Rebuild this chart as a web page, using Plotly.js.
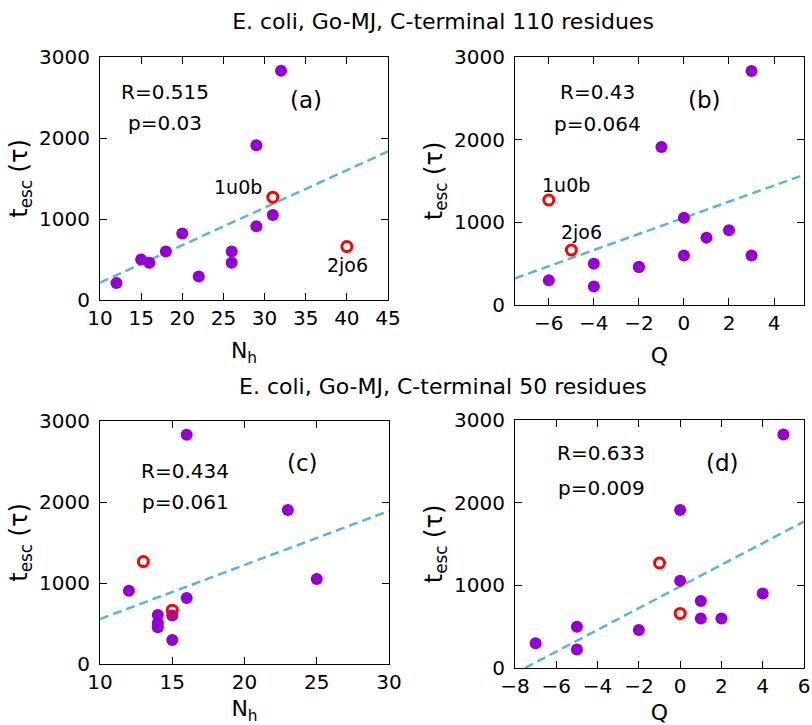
<!DOCTYPE html>
<html>
<head>
<meta charset="utf-8">
<script src="https://cdn.plot.ly/plotly-3.0.1.min.js"></script>
<style>html,body{margin:0;padding:0;background:#fff;}#chart{width:812px;height:725px;}</style>
</head>
<body>
<div id="chart"></div>
<script>
// ---- data ----
// (a) t_esc vs N_h, C-terminal 110 residues
const nhA = [12, 15, 16, 18, 20, 22, 26, 26, 29, 29, 31, 32];
const tA = [210, 500, 460, 600, 820, 290, 600, 460, 1910, 910, 1050, 2830];
const nhRedA = [31, 40];
const tRedA = [1270, 660];
const fitXA = [10, 45];
const fitYA = [214, 1834];

// (b) t_esc vs Q, C-terminal 110 residues
const qB = [-6, -4, -4, -2, -2, -1, 0, 0, 1, 2, 3, 3];
const tB = [300, 500, 225, 460, 460, 1910, 1055, 600, 815, 905, 2830, 600];
const qRedB = [-6, -5];
const tRedB = [1270, 665];
const fitXB = [-7.5, 5.33];
const fitYB = [323, 1575];

// (c) t_esc vs N_h, C-terminal 50 residues
const nhC = [12, 14, 14, 14, 15, 15, 16, 16, 23, 25];
const tC = [905, 605, 505, 455, 600, 295, 815, 2830, 1900, 1050];
const nhRedC = [13, 15];
const tRedC = [1265, 665];
const fitXC = [10, 30];
const fitYC = [555, 1890];

// (d) t_esc vs Q, C-terminal 50 residues
const qD = [-7, -5, -5, -2, 0, 0, 1, 1, 2, 4, 5];
const tD = [300, 500, 225, 460, 1910, 1055, 810, 600, 600, 900, 2825];
const qRedD = [-1, 0];
const tRedD = [1270, 660];
const fitXD = [-7.52, 6];
const fitYD = [0, 1772];

const statsText = [["R=0.515", "p=0.03"], ["R=0.43", "p=0.064"], ["R=0.434", "p=0.061"], ["R=0.633", "p=0.009"]];
const panelText = ["(a)", "(b)", "(c)", "(d)"];
const titleTop = "E. coli, Go-MJ, C-terminal 110 residues";
const titleBottom = "E. coli, Go-MJ, C-terminal 50 residues";
const protNames = ["1u0b", "2jo6"];

// ---- styling ----
const W = 812, H = 725;
const FONT = "DejaVu Sans";
const PURPLE = "#9400D3", RED = "#FF0000", BLUE = "#56B4E9";
const px = x => x / W;
const py = y => 1 - y / H;

function dots(x, y, xa, ya) {
  return {x: x, y: y, xaxis: xa, yaxis: ya, type: "scatter", mode: "markers",
    marker: {color: PURPLE, size: 12, line: {width: 0}}, hoverinfo: "x+y"};
}
function rings(x, y, xa, ya) {
  return {x: x, y: y, xaxis: xa, yaxis: ya, type: "scatter", mode: "markers",
    marker: {color: RED, size: 10, symbol: "circle-open", line: {color: RED, width: 3}}, hoverinfo: "x+y"};
}
function fit(x, y, xa, ya) {
  return {x: x, y: y, xaxis: xa, yaxis: ya, type: "scatter", mode: "lines",
    line: {color: BLUE, width: 2.5, dash: "9px,5px"}, hoverinfo: "skip"};
}

const traces = [
  fit(fitXA, fitYA, "x", "y"), dots(nhA, tA, "x", "y"), rings(nhRedA, tRedA, "x", "y"),
  fit(fitXB, fitYB, "x2", "y2"), dots(qB, tB, "x2", "y2"), rings(qRedB, tRedB, "x2", "y2"),
  fit(fitXC, fitYC, "x3", "y3"), dots(nhC, tC, "x3", "y3"), rings(nhRedC, tRedC, "x3", "y3"),
  fit(fitXD, fitYD, "x4", "y4"), dots(qD, tD, "x4", "y4"), rings(qRedD, tRedD, "x4", "y4")
];

function axis(domain, range, dtick, title, anchor, isY) {
  const a = {
    domain: domain, range: range, dtick: dtick, tick0: 0, anchor: anchor,
    ticks: "inside", ticklen: 7, tickwidth: 1, tickcolor: "#000",
    showline: true, linecolor: "#000", linewidth: 1, mirror: "ticks",
    showgrid: false, zeroline: false,
    tickfont: {family: FONT, size: 20, color: "#000"},
    title: {text: title, font: {family: FONT, size: isY ? 24 : 22, color: "#000"}, standoff: isY ? 4 : 13}
  };
  if (isY) a.ticklabelstandoff = 5;
  return a;
}
const yTitle = "t<sub>esc</sub> (τ)";
const nhTitle = "N<sub>h</sub>";

const layout = {
  width: W, height: H,
  margin: {l: 0, r: 0, t: 0, b: 0},
  paper_bgcolor: "#fff", plot_bgcolor: "#fff",
  showlegend: false,
  font: {family: FONT, color: "#000"},
  title: {text: titleTop, font: {family: FONT, size: 22, color: "#000"},
    x: px(443), xanchor: "center", xref: "paper", y: py(21), yanchor: "middle", yref: "container"},
  xaxis: axis([px(100), px(388)], [10, 45], 5, nhTitle, "y", false),
  yaxis: axis([py(300), py(57)], [0, 3000], 1000, yTitle, "x", true),
  xaxis2: axis([px(515), px(804)], [-7.5, 5.33], 2, "Q", "y2", false),
  yaxis2: axis([py(305), py(57)], [0, 3000], 1000, yTitle, "x2", true),
  xaxis3: axis([px(100), px(389)], [10, 30], 5, nhTitle, "y3", false),
  yaxis3: axis([py(664), py(421)], [0, 3000], 1000, yTitle, "x3", true),
  xaxis4: axis([px(515), px(804)], [-8, 6], 2, "Q", "y4", false),
  yaxis4: axis([py(668), py(420)], [0, 3000], 1000, yTitle, "x4", true),
  annotations: []
};

function note(text, x, y, size) {
  layout.annotations.push({text: text, x: px(x), y: py(y), xref: "paper", yref: "paper",
    xanchor: "center", yanchor: "middle", showarrow: false,
    font: {family: FONT, size: size, color: "#000"}});
}
note(titleBottom, 443, 386, 22);
const statPos = [[165, 92, 123], [597, 92, 124], [185, 471, 502], [601, 453, 488]];
const panelPos = [[306, 100], [704, 100], [302, 463], [722, 463]];
for (let i = 0; i < 4; i++) {
  note(statsText[i][0], statPos[i][0], statPos[i][1], 20);
  note(statsText[i][1], statPos[i][0], statPos[i][2], 20);
  note(panelText[i], panelPos[i][0], panelPos[i][1], 23);
}
note(protNames[0], 238, 187, 19);
note(protNames[1], 347, 265, 19);
note(protNames[0], 566, 185, 19);
note(protNames[1], 581, 232, 19);

Plotly.newPlot("chart", traces, layout, {staticPlot: true, displayModeBar: false});
</script>
</body>
</html>
